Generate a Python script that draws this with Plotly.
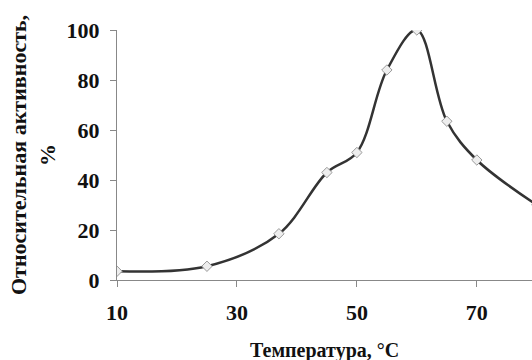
import plotly.graph_objects as go

temperature = [10, 25, 37, 45, 50, 55, 60, 65, 70, 80]
activity = [3.5, 5.5, 18.5, 43, 51, 84, 100, 63.5, 48, 30]

x_ticks = [10, 30, 50, 70]
y_ticks = [0, 20, 40, 60, 80, 100]

FONT = "Liberation Serif, Times New Roman, serif"
L, R, T, B = 117, 0, 30, 80
PW = 532 - L - R
PH = 360 - T - B

fig = go.Figure()
fig.add_trace(go.Scatter(
    x=temperature, y=activity,
    mode="lines+markers",
    line=dict(color="#333333", width=2.5, shape="spline", smoothing=1.0),
    marker=dict(symbol="diamond", size=8, color="#eeeeee",
                line=dict(color="#9a9a9a", width=1)),
    cliponaxis=True,
    showlegend=False,
))

fig.update_layout(
    width=532, height=360,
    margin=dict(l=L, r=R, t=T, b=B, autoexpand=False),
    paper_bgcolor="white", plot_bgcolor="white",
    font=dict(family=FONT, color="#111111"),
    xaxis=dict(
        range=[10, 79.2],
        tickvals=x_ticks,
        ticks="outside", ticklen=6, tickcolor="#888888",
        showline=True, linecolor="#888888", linewidth=1,
        showgrid=False, zeroline=False, automargin=False,
        tickfont=dict(family=FONT, size=22, weight="bold", color="#111111"),
        ticklabelstandoff=7,
    ),
    yaxis=dict(
        range=[0, 100],
        tickvals=y_ticks,
        ticks="outside", ticklen=6, tickcolor="#888888",
        showline=True, linecolor="#888888", linewidth=1,
        showgrid=False, zeroline=False, automargin=False,
        tickfont=dict(family=FONT, size=22, weight="bold", color="#111111"),
        ticklabelstandoff=6,
    ),
    annotations=[
        dict(text="Температура, °C", xref="paper", yref="paper",
             x=0.5, y=-(350 - (T + PH)) / PH, xanchor="center", yanchor="middle",
             showarrow=False,
             font=dict(family=FONT, size=20, weight="bold", color="#111111")),
        dict(text="Относительная активность,<br>%", xref="paper", yref="paper",
             x=-(L - 33) / PW, y=0.5, xanchor="center", yanchor="middle",
             textangle=-90, showarrow=False,
             font=dict(family=FONT, size=22, weight="bold", color="#111111")),
    ],
)

fig.write_html("out.html", config={"displayModeBar": False},
               post_script="document.body.style.margin='0px';")
